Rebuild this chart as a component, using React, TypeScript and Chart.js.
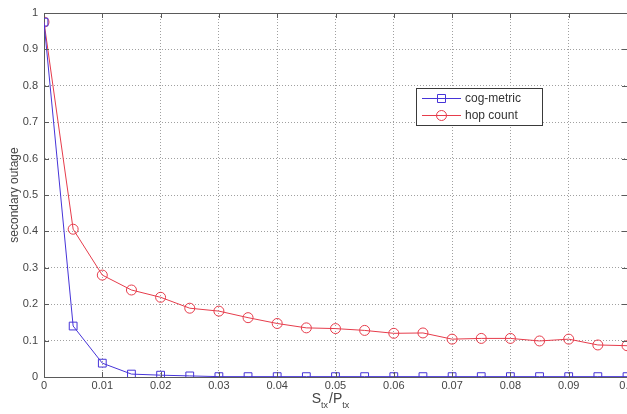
import { useEffect, useRef } from 'react';
import { Chart, registerables } from 'chart.js';

Chart.register(...registerables);

// Transmit power ratio samples
const xValues = [
  0, 0.005, 0.01, 0.015, 0.02, 0.025, 0.03, 0.035, 0.04, 0.045, 0.05,
  0.055, 0.06, 0.065, 0.07, 0.075, 0.08, 0.085, 0.09, 0.095, 0.1,
];

// Secondary outage probability per routing metric
const cogMetric = [
  0.975, 0.14, 0.038, 0.008, 0.005, 0.003, 0.001, 0.001, 0.001, 0.001, 0.001,
  0.001, 0.001, 0.001, 0.001, 0.001, 0.001, 0.001, 0.001, 0.001, 0.001,
];
const hopCount = [
  0.975, 0.406, 0.28, 0.239, 0.219, 0.189, 0.181, 0.163, 0.147, 0.135, 0.133,
  0.128, 0.12, 0.121, 0.104, 0.106, 0.106, 0.099, 0.104, 0.088, 0.086,
];

const seriesNames = ['cog-metric', 'hop count'];
const seriesColors = ['#4634d8', '#e63c4b'];

const xTicks = [0, 0.01, 0.02, 0.03, 0.04, 0.05, 0.06, 0.07, 0.08, 0.09, 0.1];
const yTicks = [0, 0.1, 0.2, 0.3, 0.4, 0.5, 0.6, 0.7, 0.8, 0.9, 1];

const FONT = '"Liberation Sans", Arial, sans-serif';
const AXIS_COLOR = '#5a5a5a';
const TEXT_COLOR = '#454545';

const fmt = (v: number) => String(+v.toFixed(2));

// Closed axes box, inward tick marks, axis titles and an in-plot legend
const matlabAxes = {
  id: 'matlabAxes',
  afterDraw(chart: any) {
    const { ctx, chartArea: a, scales } = chart;
    const xs = scales.x;
    const ys = scales.y;
    ctx.save();

    // box
    ctx.strokeStyle = AXIS_COLOR;
    ctx.lineWidth = 1;
    ctx.beginPath();
    ctx.moveTo(a.left, a.top + 0.5);
    ctx.lineTo(a.right, a.top + 0.5);
    ctx.moveTo(a.right + 0.5, a.top);
    ctx.lineTo(a.right + 0.5, a.bottom);
    ctx.stroke();

    // inward ticks
    const tl = 5;
    ctx.beginPath();
    xTicks.forEach((v) => {
      const px = Math.round(xs.getPixelForValue(v)) + 0.5;
      ctx.moveTo(px, a.bottom);
      ctx.lineTo(px, a.bottom - tl);
      ctx.moveTo(px, a.top);
      ctx.lineTo(px, a.top + tl);
    });
    yTicks.forEach((v) => {
      const py = Math.round(ys.getPixelForValue(v)) + 0.5;
      ctx.moveTo(a.left, py);
      ctx.lineTo(a.left + tl, py);
      ctx.moveTo(a.right, py);
      ctx.lineTo(a.right - tl, py);
    });
    ctx.stroke();

    // y title
    ctx.fillStyle = TEXT_COLOR;
    ctx.font = `12px ${FONT}`;
    ctx.textAlign = 'center';
    ctx.textBaseline = 'middle';
    ctx.save();
    ctx.translate(15, (a.top + a.bottom) / 2);
    ctx.rotate(-Math.PI / 2);
    ctx.fillText('secondary outage', 0, 0);
    ctx.restore();

    // x title: S_tx / P_tx
    ctx.textAlign = 'left';
    ctx.textBaseline = 'alphabetic';
    const big = `14px ${FONT}`;
    const small = `9px ${FONT}`;
    const parts: [string, boolean][] = [
      ['S', false],
      ['tx', true],
      ['/P', false],
      ['tx', true],
    ];
    let total = 0;
    parts.forEach(([t, sub]) => {
      ctx.font = sub ? small : big;
      total += ctx.measureText(t).width + (sub ? 1 : 0);
    });
    let cx = 331 - total / 2;
    const base = 403;
    parts.forEach(([t, sub]) => {
      ctx.font = sub ? small : big;
      ctx.fillText(t, cx, sub ? base + 5 : base);
      cx += ctx.measureText(t).width + (sub ? 1 : 0);
    });

    // legend
    const lx = 416;
    const ly = 88;
    const lw = 126;
    const lh = 37;
    ctx.fillStyle = '#ffffff';
    ctx.fillRect(lx, ly, lw, lh);
    ctx.strokeStyle = '#3a3a3a';
    ctx.lineWidth = 1;
    ctx.strokeRect(lx + 0.5, ly + 0.5, lw, lh);
    const rows = [ly + 10, ly + 27];
    chart.data.datasets.forEach((ds: any, i: number) => {
      const y = rows[i] + 0.5;
      ctx.strokeStyle = ds.borderColor;
      ctx.lineWidth = 1;
      ctx.beginPath();
      ctx.moveTo(422, y);
      ctx.lineTo(461, y);
      ctx.stroke();
      ctx.beginPath();
      if (ds.pointStyle === 'rect') {
        ctx.rect(441.5 - 4, y - 4, 8, 8);
      } else {
        ctx.arc(441.5, y, 5, 0, Math.PI * 2);
      }
      ctx.stroke();
      ctx.fillStyle = '#333333';
      ctx.font = `12px ${FONT}`;
      ctx.textBaseline = 'middle';
      ctx.fillText(ds.label, 465, y);
    });

    ctx.restore();
  },
};

export default function App() {
  const ref = useRef<HTMLCanvasElement>(null);

  useEffect(() => {
    if (!ref.current) return;
    const chart = new Chart(ref.current, {
      type: 'line',
      data: {
        datasets: [
          {
            label: seriesNames[0],
            data: xValues.map((x, i) => ({ x, y: cogMetric[i] })),
            borderColor: seriesColors[0],
            backgroundColor: 'transparent',
            borderWidth: 1,
            pointStyle: 'rect',
            pointRadius: 5.5,
            pointBorderWidth: 1,
            pointBorderColor: seriesColors[0],
            pointBackgroundColor: 'transparent',
            tension: 0,
          },
          {
            label: seriesNames[1],
            data: xValues.map((x, i) => ({ x, y: hopCount[i] })),
            borderColor: seriesColors[1],
            backgroundColor: 'transparent',
            borderWidth: 1,
            pointStyle: 'circle',
            pointRadius: 5,
            pointBorderWidth: 1,
            pointBorderColor: seriesColors[1],
            pointBackgroundColor: 'transparent',
            tension: 0,
          },
        ],
      },
      options: {
        animation: false,
        responsive: false,
        devicePixelRatio: 1,
        layout: { padding: { top: 13, right: 33, left: 0, bottom: 0 } },
        plugins: {
          legend: { display: false },
          tooltip: { enabled: false },
        },
        scales: {
          x: {
            type: 'linear',
            min: 0,
            max: 0.1,
            afterBuildTicks: (s: any) => {
              s.ticks = xTicks.map((v) => ({ value: v }));
            },
            afterFit: (s: any) => {
              s.height = 37;
            },
            ticks: {
              callback: (v: any) => fmt(Number(v)),
              color: TEXT_COLOR,
              font: { family: FONT, size: 11 },
              padding: 2,
              maxRotation: 0,
              autoSkip: false,
            },
            grid: { color: '#a0a0a0', lineWidth: 1, drawTicks: false },
            border: { color: AXIS_COLOR, width: 1, dash: [1, 2] },
          },
          y: {
            type: 'linear',
            min: 0,
            max: 1,
            afterBuildTicks: (s: any) => {
              s.ticks = yTicks.map((v) => ({ value: v }));
            },
            afterFit: (s: any) => {
              s.width = 44;
            },
            ticks: {
              callback: (v: any) => fmt(Number(v)),
              color: TEXT_COLOR,
              font: { family: FONT, size: 11 },
              padding: 6,
              autoSkip: false,
            },
            grid: { color: '#a0a0a0', lineWidth: 1, drawTicks: false },
            border: { color: AXIS_COLOR, width: 1, dash: [1, 2] },
          },
        },
      },
      plugins: [matlabAxes],
    });
    return () => chart.destroy();
  }, []);

  return (
    <div
      style={{
        position: 'fixed',
        left: 0,
        top: 0,
        width: 627,
        height: 414,
        overflow: 'hidden',
        background: '#ffffff',
      }}
    >
      <canvas ref={ref} width={660} height={414} style={{ width: 660, height: 414, display: 'block' }} />
    </div>
  );
}
